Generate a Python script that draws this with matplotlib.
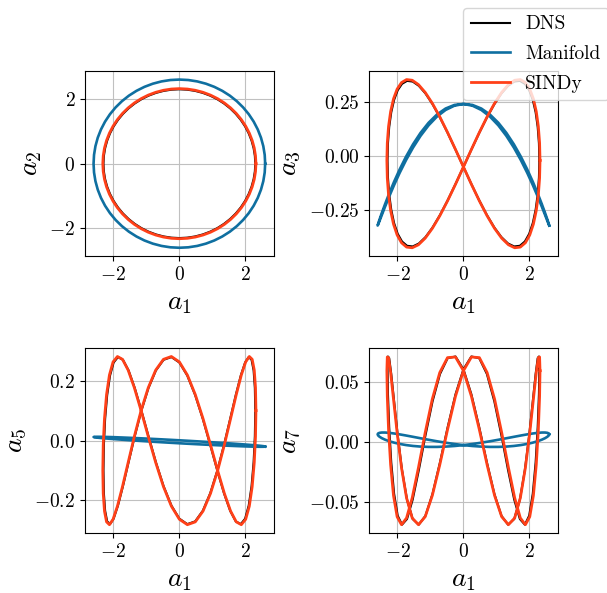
import numpy as np
import matplotlib
matplotlib.use('Agg')
import matplotlib.pyplot as plt
from matplotlib.ticker import MultipleLocator, FormatStrFormatter

plt.rcParams['font.family'] = 'serif'
plt.rcParams['font.serif'] = ['cmr10']
plt.rcParams['mathtext.fontset'] = 'cm'
plt.rcParams['axes.formatter.use_mathtext'] = True

# limit cycle written as harmonics of the phase angle: mode -> [(n, cos amp, sin amp), ...]
dns_modes = {
    'a1': [(1, 2.30, 0.0)],
    'a2': [(1, 0.0, 2.30)],
    'a3': [(0, -0.035, 0.0), (2, 0.015, 0.382)],
    'a5': [(3, 0.101, 0.263)],
    'a7': [(0, 0.0012, 0.0), (4, 0.0590, -0.0387)],
}
manifold_modes = {
    'a1': [(1, 2.60, 0.0)],
    'a2': [(1, 0.0, 2.60)],
    'a3': [(0, -0.04, 0.0), (2, -0.28, 0.008)],
    'a5': [(0, -0.004, 0.0), (1, -0.0161, 0.005)],
    'a7': [(0, 0.0015, 0.0), (2, 0.0045, 0.004)],
}
sindy_modes = {
    'a1': [(1, 2.32, 0.0)],
    'a2': [(1, 0.0, 2.32)],
    'a3': [(0, -0.035, 0.0), (2, 0.015, 0.388)],
    'a5': [(3, 0.101, 0.265)],
    'a7': [(0, 0.0012, 0.0), (4, 0.0578, -0.0404)],
}

models = ['DNS', 'Manifold', 'SINDy']
colors = ['black', '#0f6fa0', '#ff4018']
widths = [1.5, 1.9, 2.0]
coeffs = [dns_modes, manifold_modes, sindy_modes]

n_samples = 61  # snapshots per period
phase = np.linspace(0, 2*np.pi, n_samples)

def mode(c, name):
    out = np.zeros_like(phase)
    for n, ca, sa in c[name]:
        out += ca*np.cos(n*phase) + sa*np.sin(n*phase)
    return out

panels = [('a1', 'a2'), ('a1', 'a3'), ('a1', 'a5'), ('a1', 'a7')]
labels = {'a1': r'$a_1$', 'a2': r'$a_2$', 'a3': r'$a_3$', 'a5': r'$a_5$', 'a7': r'$a_7$'}

fig = plt.figure(figsize=(6.07, 5.93), dpi=100)
pos = [[0.140, 0.568, 0.311, 0.312], [0.608, 0.568, 0.311, 0.312],
       [0.140, 0.101, 0.311, 0.312], [0.608, 0.101, 0.311, 0.312]]

for p, (xn, yn) in zip(pos, panels):
    ax = fig.add_axes(p)
    for m, c, col, lw in zip(models, coeffs, colors, widths):
        ax.plot(mode(c, xn), mode(c, yn), color=col, lw=lw, label=m)
    ax.grid(True, color='#c0c0c0', lw=0.8)
    ax.tick_params(labelsize=14)
    ax.set_xlabel(labels[xn], fontsize=20)
    ax.set_ylabel(labels[yn], fontsize=20)
    if yn == 'a3':
        ax.yaxis.set_major_locator(MultipleLocator(0.25))
        ax.yaxis.set_major_formatter(FormatStrFormatter(r'$%.2f$'))
    if yn == 'a2':
        handles, names = ax.get_legend_handles_labels()

fig.legend(handles, names, loc='upper left', bbox_to_anchor=(0.763, 0.987),
           fontsize=14, handlelength=2.0, labelspacing=0.6, borderaxespad=0.0)

plt.savefig('out.png', dpi=100)
